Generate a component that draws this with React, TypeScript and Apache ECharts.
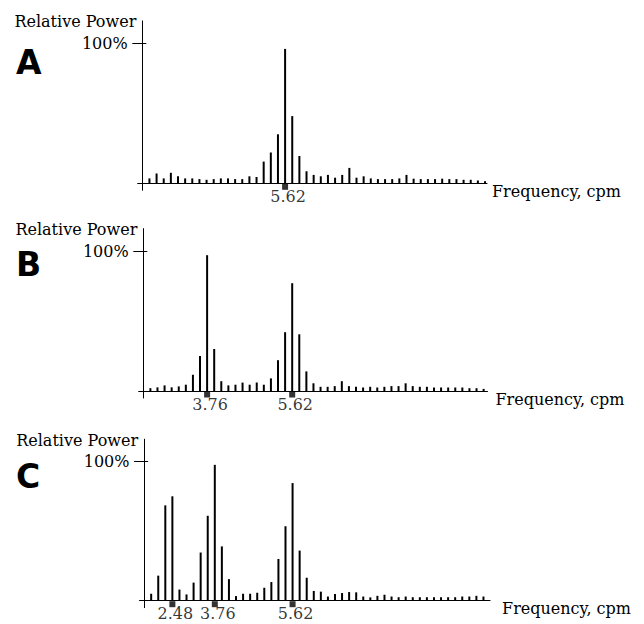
import React, { useEffect, useRef } from "react";
import * as echarts from "echarts";

// Relative power (% of the largest peak) for each frequency bin, bins 1..48
const powerA = [
  3.5, 7, 3.5, 7.5, 5, 3.5, 3.5, 3, 2.5, 3, 3.5, 3.5, 3, 3, 5, 4.5,
  15.5, 22, 35, 96, 48, 19.5, 8.6, 6, 5, 6, 4, 6, 11, 4, 5, 3.5,
  3, 3, 3, 3.5, 6, 3.3, 3, 3, 3, 3.3, 3, 3, 2.5, 2.5, 2, 1.5,
];
const powerB = [
  2, 2.6, 4, 2.6, 3.3, 4.5, 11.6, 25, 97, 30, 7, 4, 4.5, 6, 4.5, 6,
  4.5, 9, 22, 42, 77, 40.5, 14, 5.5, 3, 3, 3.5, 7, 3.5, 3, 2.5, 3,
  2.5, 3, 3.5, 3.5, 5.5, 3.5, 3, 3, 2.5, 2.5, 2.5, 2.5, 2.5, 2, 2, 1.5,
];
const powerC = [
  5, 18, 68.5, 75, 8, 4.5, 13, 34.6, 61, 97.6, 39, 15.5, 3.3, 5, 5, 5.7,
  9.3, 13.4, 30, 53.5, 84.5, 36, 16.5, 7, 6.5, 3, 4.8, 5.5, 6.2, 6, 3, 2.4,
  3.5, 4.3, 3, 2.5, 3, 2.5, 2.5, 2.5, 2.5, 2.5, 2.5, 2.5, 3, 3, 3.5, 3,
];

// Marked peaks: frequency bin and its label (cpm)
const markBinsA = [20];
const markLabelsA = ["5.62"];
const markBinsB = [9, 21];
const markLabelsB = ["3.76", "5.62"];
const markBinsC = [4, 10, 21];
const markLabelsC = ["2.48", "3.76", "5.62"];

const yTickValues = [100];
const yAxisTitle = "Relative Power";
const xAxisTitle = "Frequency, cpm";
const panelLetters = ["A", "B", "C"];

const panels = [
  { power: powerA, bins: markBinsA, labels: markLabelsA },
  { power: powerB, bins: markBinsB, labels: markLabelsB },
  { power: powerC, bins: markBinsC, labels: markLabelsC },
];

// Layout (pixels)
const layouts = [
  { axisX: 142.3, step: 7.14, xMax: 48.28, base: 183.3, scale: 1.4, nameGap: 5, letterY: 62.5 },
  { axisX: 143.3, step: 7.09, xMax: 48.55, base: 391, scale: 1.4, nameGap: 8, letterY: 264.5 },
  { axisX: 144.1, step: 7.07, xMax: 48.93, base: 600.7, scale: 1.392, nameGap: 12, letterY: 476 },
];
const X_MIN = -0.65;
const Y_MIN = -5;
const Y_MAX = 116;
const SERIF = '"DejaVu Serif", "Liberation Serif", serif';
const INK = "#000";
const FS = 16;

export default function App() {
  const ref = useRef<HTMLDivElement>(null);
  useEffect(() => {
    if (!ref.current) return;
    const chart = echarts.init(ref.current, null, { renderer: "svg" });
    const grid: any[] = [];
    const xAxis: any[] = [];
    const yAxis: any[] = [];
    const series: any[] = [];
    const graphic: any[] = [];
    panels.forEach((p, k) => {
      const l = layouts[k];
      grid.push({
        left: l.axisX + X_MIN * l.step,
        width: (l.xMax - X_MIN) * l.step,
        top: l.base - Y_MAX * l.scale,
        height: (Y_MAX - Y_MIN) * l.scale,
      });
      xAxis.push({
        gridIndex: k,
        type: "value",
        min: X_MIN,
        max: l.xMax,
        axisLine: { show: true, onZero: true, lineStyle: { color: INK, width: 1 } },
        axisTick: { show: false },
        axisLabel: { show: false },
        splitLine: { show: false },
        name: xAxisTitle,
        nameLocation: "end",
        nameGap: l.nameGap,
        nameTextStyle: {
          fontFamily: SERIF,
          fontSize: FS,
          color: INK,
          align: "left",
          verticalAlign: "top",
        },
      });
      yAxis.push({
        gridIndex: k,
        type: "value",
        position: "left",
        min: Y_MIN,
        max: Y_MAX,
        axisLine: { show: true, onZero: true, lineStyle: { color: INK, width: 1 } },
        axisTick: { show: true, length: 10, customValues: yTickValues, lineStyle: { color: INK } },
        axisLabel: {
          show: true,
          customValues: yTickValues,
          formatter: "{value}%",
          margin: 10,
          fontFamily: SERIF,
          fontSize: FS,
          color: INK,
          padding: [0, 0, 4, 0],
        },
        splitLine: { show: false },
        name: yAxisTitle,
        nameLocation: "end",
        nameGap: -1,
        nameTextStyle: {
          fontFamily: SERIF,
          fontSize: FS,
          color: INK,
          align: "right",
          verticalAlign: "middle",
          padding: [0, 6, 0, 0],
        },
      });
      yAxis.push({
        gridIndex: k,
        type: "value",
        position: "left",
        min: Y_MIN,
        max: Y_MAX,
        axisLine: { show: false, onZero: true, onZeroAxisIndex: k },
        axisTick: { show: true, inside: true, length: 4, customValues: yTickValues, lineStyle: { color: INK } },
        axisLabel: { show: false },
        splitLine: { show: false },
      });
      series.push({
        type: "bar",
        xAxisIndex: k,
        yAxisIndex: 2 * k,
        data: p.power.map((v, i) => [i + 1, v]),
        barWidth: 2,
        itemStyle: { color: INK },
        silent: true,
      });
      series.push({
        type: "scatter",
        xAxisIndex: k,
        yAxisIndex: 2 * k,
        data: p.bins.map((b, j) => ({ value: [b, 0], name: p.labels[j] })),
        symbol: "rect",
        symbolSize: [6, 6],
        symbolOffset: [0, 3.5],
        itemStyle: { color: INK },
        label: {
          show: true,
          position: "bottom",
          distance: -1,
          offset: [3, 0],
          formatter: "{b}",
          fontFamily: SERIF,
          fontSize: FS,
          lineHeight: 15,
          color: INK,
        },
        silent: true,
        z: 3,
      });
      graphic.push({
        type: "text",
        x: 16,
        y: l.letterY,
        style: {
          text: panelLetters[k],
          font: 'bold 33px "DejaVu Sans", "Liberation Sans", sans-serif',
          fill: INK,
          align: "left",
          verticalAlign: "middle",
        },
      });
    });
    chart.setOption({
      animation: false,
      backgroundColor: "#fff",
      grid,
      xAxis,
      yAxis,
      series,
      graphic,
    });
    return () => chart.dispose();
  }, []);
  return (
    <div
      ref={ref}
      style={{ position: "fixed", left: 0, top: 0, width: 644, height: 624, background: "#fff" }}
    />
  );
}
